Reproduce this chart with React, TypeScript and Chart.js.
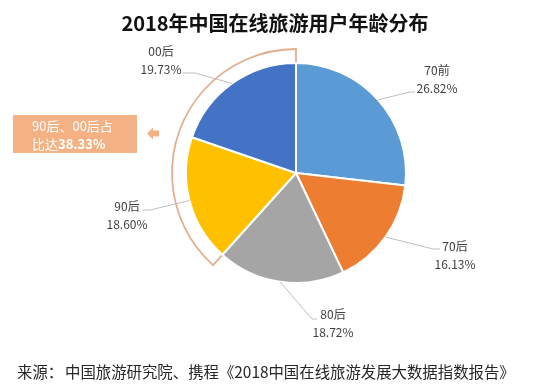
import React, { useEffect, useRef } from 'react';
import { Chart, registerables } from 'chart.js';

Chart.register(...registerables);

// ---------- data ----------
const categories = ['70前', '70后', '80后', '90后', '00后'];
const shares = [26.82, 16.13, 18.72, 18.6, 19.73];
const shareLabels = ['26.82%', '16.13%', '18.72%', '18.60%', '19.73%'];
const highlightGroup = ['90后', '00后'];
const highlightShareText = '38.33%';

const titleText = '2018年中国在线旅游用户年龄分布';
const sourcePrefix = '来源：';
const sourceText = '中国旅游研究院、携程《2018中国在线旅游发展大数据指数报告》';
const calloutLine1 = '90后、00后占';
const calloutLine2Prefix = '比达';

// ---------- styles ----------
const sliceColors = ['#5B9BD5', '#ED7D31', '#A5A5A5', '#FFC000', '#4472C4'];
const outlineColor = '#E3B08F';
const calloutColor = '#F4B183';
const labelColor = '#404040';
const leaderColor = '#BFBFBF';
const FONT = '"Noto Sans CJK SC", "Noto Sans", sans-serif';

// label layout relative to pie centre: elbow point, end point, text centre (first line)
const labelLayout = [
  { elbow: [114, -81], end: [119, -81], text: [141, -103] },
  { elbow: [137, 76], end: [144, 76], text: [159, 73] },
  { elbow: [16, 146], end: [21, 146], text: [37, 141] },
  { elbow: [-146, 37], end: [-153, 37], text: [-169, 33] },
  { elbow: [-101, -100], end: [-113, -100], text: [-135, -122] },
];

const annotatePlugin = {
  id: 'annotate',
  beforeDatasetsDraw(chart: any) {
    const ctx = chart.ctx;
    const meta = chart.getDatasetMeta(0);
    const idxs = highlightGroup.map((c) => categories.indexOf(c));
    const first: any = meta.data[idxs[0]];
    const last: any = meta.data[idxs[idxs.length - 1]];
    const x = first.x, y = first.y, r = first.outerRadius;
    ctx.save();
    ctx.strokeStyle = outlineColor;
    ctx.lineWidth = 1.8;
    ctx.beginPath();
    ctx.moveTo(x, y);
    ctx.arc(x, y, r + 14, first.startAngle, last.endAngle);
    ctx.closePath();
    ctx.stroke();
    ctx.restore();
  },
  afterDraw(chart: any) {
    const ctx = chart.ctx;
    const meta = chart.getDatasetMeta(0);
    ctx.save();
    // leader lines + labels
    meta.data.forEach((arc: any, i: number) => {
      const cx = arc.x, cy = arc.y, r = arc.outerRadius;
      const mid = (arc.startAngle + arc.endAngle) / 2;
      const ex = cx + Math.cos(mid) * r;
      const ey = cy + Math.sin(mid) * r;
      const L = labelLayout[i];
      ctx.strokeStyle = leaderColor;
      ctx.lineWidth = 1;
      ctx.beginPath();
      ctx.moveTo(ex, ey);
      ctx.lineTo(cx + L.elbow[0], cy + L.elbow[1]);
      ctx.lineTo(cx + L.end[0], cy + L.end[1]);
      ctx.stroke();
      ctx.fillStyle = labelColor;
      ctx.font = `12px ${FONT}`;
      ctx.textAlign = 'center';
      ctx.textBaseline = 'middle';
      ctx.fillText(categories[i], cx + L.text[0], cy + L.text[1]);
      ctx.fillText(shareLabels[i], cx + L.text[0], cy + L.text[1] + 18);
    });

    // title
    ctx.fillStyle = '#111111';
    ctx.font = `bold 20px ${FONT}`;
    ctx.textAlign = 'center';
    ctx.textBaseline = 'middle';
    ctx.fillText(titleText, 275, 23);

    // source
    ctx.fillStyle = '#262626';
    ctx.font = `15.4px ${FONT}`;
    ctx.textAlign = 'left';
    ctx.fillText(sourcePrefix, 17, 372);
    ctx.fillText(sourceText, 65, 372);

    // callout box
    ctx.fillStyle = calloutColor;
    ctx.fillRect(13, 115, 124, 38);
    ctx.fillStyle = '#FFFFFF';
    ctx.font = `13px ${FONT}`;
    ctx.textAlign = 'left';
    ctx.fillText(calloutLine1, 32, 126);
    ctx.fillText(calloutLine2Prefix, 32, 144);
    const w = ctx.measureText(calloutLine2Prefix).width;
    ctx.font = `bold 13px ${FONT}`;
    ctx.fillText(highlightShareText, 32 + w, 144);

    // arrow
    ctx.fillStyle = calloutColor;
    ctx.beginPath();
    ctx.moveTo(147, 133.5);
    ctx.lineTo(153, 127.5);
    ctx.lineTo(153, 130.5);
    ctx.lineTo(159, 130.5);
    ctx.lineTo(159, 136.5);
    ctx.lineTo(153, 136.5);
    ctx.lineTo(153, 139.5);
    ctx.closePath();
    ctx.fill();
    ctx.restore();
  },
};

export default function App() {
  const canvasRef = useRef<HTMLCanvasElement | null>(null);

  useEffect(() => {
    if (!canvasRef.current) return;
    const chart = new Chart(canvasRef.current, {
      type: 'pie',
      data: {
        labels: categories,
        datasets: [
          {
            data: shares,
            backgroundColor: sliceColors,
            borderColor: '#FFFFFF',
            borderWidth: 2,
            hoverOffset: 0,
          },
        ],
      },
      options: {
        responsive: false,
        maintainAspectRatio: false,
        animation: false,
        devicePixelRatio: 1,
        radius: 110,
        layout: { padding: { left: 43, right: 0, top: 0, bottom: 45 } },
        plugins: {
          legend: { display: false },
          tooltip: { enabled: false },
          title: { display: false },
        },
      } as any,
      plugins: [annotatePlugin],
    });
    return () => chart.destroy();
  }, []);

  return (
    <div style={{ position: 'fixed', left: 0, top: 0, width: 549, height: 391, background: '#fff' }}>
      <canvas ref={canvasRef} width={549} height={391} />
    </div>
  );
}
